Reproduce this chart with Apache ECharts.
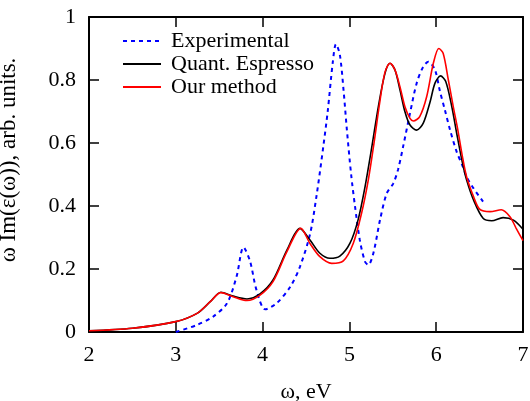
<!DOCTYPE html>
<html>
<head>
<meta charset="utf-8">
<script src="https://cdn.jsdelivr.net/npm/echarts@6/dist/echarts.min.js"></script>
<style>
html,body{margin:0;padding:0;background:#fff;}
#chart{width:530px;height:401px;}
</style>
</head>
<body>
<div id="chart"></div>
<script>
// ---- data ----
var seriesNames = ["Experimental", "Quant. Espresso", "Our method"];
var xTicks = [2, 3, 4, 5, 6, 7];
var yTicks = [0, 0.2, 0.4, 0.6, 0.8, 1];

var expX = [3.0, 3.24, 3.43, 3.59, 3.7, 3.78, 3.855, 3.93, 4.03, 4.16, 4.32, 4.43, 4.546, 4.62, 4.70, 4.75, 4.81, 4.845, 4.89, 4.935, 4.97, 5.02, 5.065, 5.12, 5.18, 5.218, 5.276, 5.353, 5.43, 5.506, 5.56, 5.62, 5.698, 5.775, 5.85, 5.91, 5.986, 6.04, 6.1, 6.16, 6.236, 6.3, 6.35, 6.43, 6.54];
var expY = [0.0, 0.022, 0.049, 0.091, 0.176, 0.269, 0.225, 0.133, 0.072, 0.091, 0.144, 0.207, 0.31, 0.43, 0.59, 0.7, 0.86, 0.914, 0.88, 0.76, 0.645, 0.5, 0.398, 0.292, 0.223, 0.213, 0.25, 0.356, 0.44, 0.472, 0.515, 0.59, 0.694, 0.79, 0.842, 0.858, 0.832, 0.768, 0.705, 0.641, 0.572, 0.53, 0.493, 0.456, 0.414];

var qeX = [2.0, 2.5, 3.0, 3.25, 3.4, 3.52, 3.66, 3.82, 3.97, 4.12, 4.28, 4.43, 4.546, 4.66, 4.776, 4.89, 5.007, 5.10, 5.18, 5.257, 5.333, 5.41, 5.468, 5.525, 5.583, 5.64, 5.698, 5.775, 5.851, 5.93, 5.986, 6.05, 6.11, 6.18, 6.236, 6.30, 6.35, 6.43, 6.54, 6.64, 6.77, 6.89, 7.0];
var qeY = [0.004, 0.012, 0.033, 0.06, 0.097, 0.126, 0.114, 0.105, 0.121, 0.165, 0.26, 0.329, 0.292, 0.25, 0.234, 0.241, 0.282, 0.356, 0.461, 0.585, 0.715, 0.821, 0.853, 0.832, 0.768, 0.699, 0.657, 0.641, 0.663, 0.731, 0.79, 0.813, 0.795, 0.715, 0.631, 0.54, 0.483, 0.419, 0.361, 0.353, 0.363, 0.355, 0.326];

var ourX = [2.0, 2.5, 3.0, 3.25, 3.4, 3.52, 3.66, 3.82, 3.97, 4.12, 4.28, 4.44, 4.546, 4.66, 4.796, 4.93, 5.045, 5.14, 5.218, 5.283, 5.35, 5.41, 5.468, 5.525, 5.583, 5.64, 5.698, 5.736, 5.81, 5.89, 5.967, 6.03, 6.08, 6.14, 6.197, 6.25, 6.30, 6.35, 6.43, 6.5, 6.62, 6.75, 6.85, 6.92, 7.0];
var ourY = [0.004, 0.012, 0.033, 0.06, 0.097, 0.125, 0.112, 0.1, 0.117, 0.16, 0.255, 0.329, 0.281, 0.239, 0.218, 0.226, 0.282, 0.377, 0.483, 0.599, 0.73, 0.825, 0.853, 0.832, 0.778, 0.715, 0.678, 0.67, 0.684, 0.747, 0.853, 0.9, 0.885, 0.8, 0.715, 0.64, 0.56, 0.493, 0.43, 0.39, 0.382, 0.388, 0.366, 0.33, 0.29];

function pairs(xs, ys) { return xs.map(function (x, i) { return [x, ys[i]]; }); }

var FONT = "'Liberation Serif', 'DejaVu Serif', serif";
var chart = echarts.init(document.getElementById('chart'), null, {renderer: 'canvas'});

var axisLineStyle = {color: '#000', width: 2};
var baseX = {
  type: 'value', min: xTicks[0], max: xTicks[xTicks.length - 1], interval: 1,
  axisLine: {show: true, lineStyle: axisLineStyle, onZero: false},
  axisTick: {show: true, inside: true, length: 10, lineStyle: {color: '#000', width: 1.5}},
  splitLine: {show: false}
};
var baseY = {
  type: 'value', min: yTicks[0], max: yTicks[yTicks.length - 1], interval: 0.2,
  axisLine: {show: true, lineStyle: axisLineStyle, onZero: false},
  axisTick: {show: true, inside: true, length: 10, lineStyle: {color: '#000', width: 1.5}},
  splitLine: {show: false}
};

chart.setOption({
  animation: false,
  backgroundColor: '#fff',
  grid: {left: 89, top: 17, right: 7, bottom: 69, containLabel: false, outerBoundsMode: 'none'},
  xAxis: [
    Object.assign({}, baseX, {
      position: 'bottom',
      name: 'ω, eV', nameLocation: 'middle', nameGap: 49,
      nameTextStyle: {fontFamily: FONT, fontSize: 22, color: '#000'},
      axisLabel: {show: true, margin: 12, fontFamily: FONT, fontSize: 22, color: '#000'}
    }),
    Object.assign({}, baseX, {position: 'top', axisLabel: {show: false}})
  ],
  yAxis: [
    Object.assign({}, baseY, {
      position: 'left',
      axisLabel: {show: true, margin: 13, fontFamily: FONT, fontSize: 22, color: '#000'}
    }),
    Object.assign({}, baseY, {position: 'right', axisLabel: {show: false}})
  ],
  legend: {
    show: true, orient: 'vertical', left: 117, top: 25,
    itemWidth: 38, itemHeight: 14, itemGap: 1,
    data: seriesNames,
    itemStyle: {opacity: 0},
    textStyle: {fontFamily: FONT, fontSize: 22, color: '#000', lineHeight: 22, padding: [0, 0, 0, 5]}
  },
  graphic: [{
    type: 'text', x: 9, y: 160, rotation: Math.PI / 2,
    style: {text: 'ω Im(ε(ω)), arb. units.', fontFamily: FONT, fontSize: 23, fill: '#000', align: 'center', verticalAlign: 'middle'}
  }],
  series: [
    {
      name: seriesNames[0], type: 'line', data: pairs(expX, expY), smooth: 0.3,
      symbol: 'none', showSymbol: false, color: '#0000ff',
      lineStyle: {color: '#0000ff', width: 2, type: [4, 4]}, z: 3
    },
    {
      name: seriesNames[1], type: 'line', data: pairs(qeX, qeY), smooth: 0.3,
      symbol: 'none', showSymbol: false, color: '#000',
      lineStyle: {color: '#000', width: 1.6}, z: 4
    },
    {
      name: seriesNames[2], type: 'line', data: pairs(ourX, ourY), smooth: 0.3,
      symbol: 'none', showSymbol: false, color: '#ff0000',
      lineStyle: {color: '#ff0000', width: 1.6}, z: 5
    }
  ]
});
</script>
</body>
</html>
